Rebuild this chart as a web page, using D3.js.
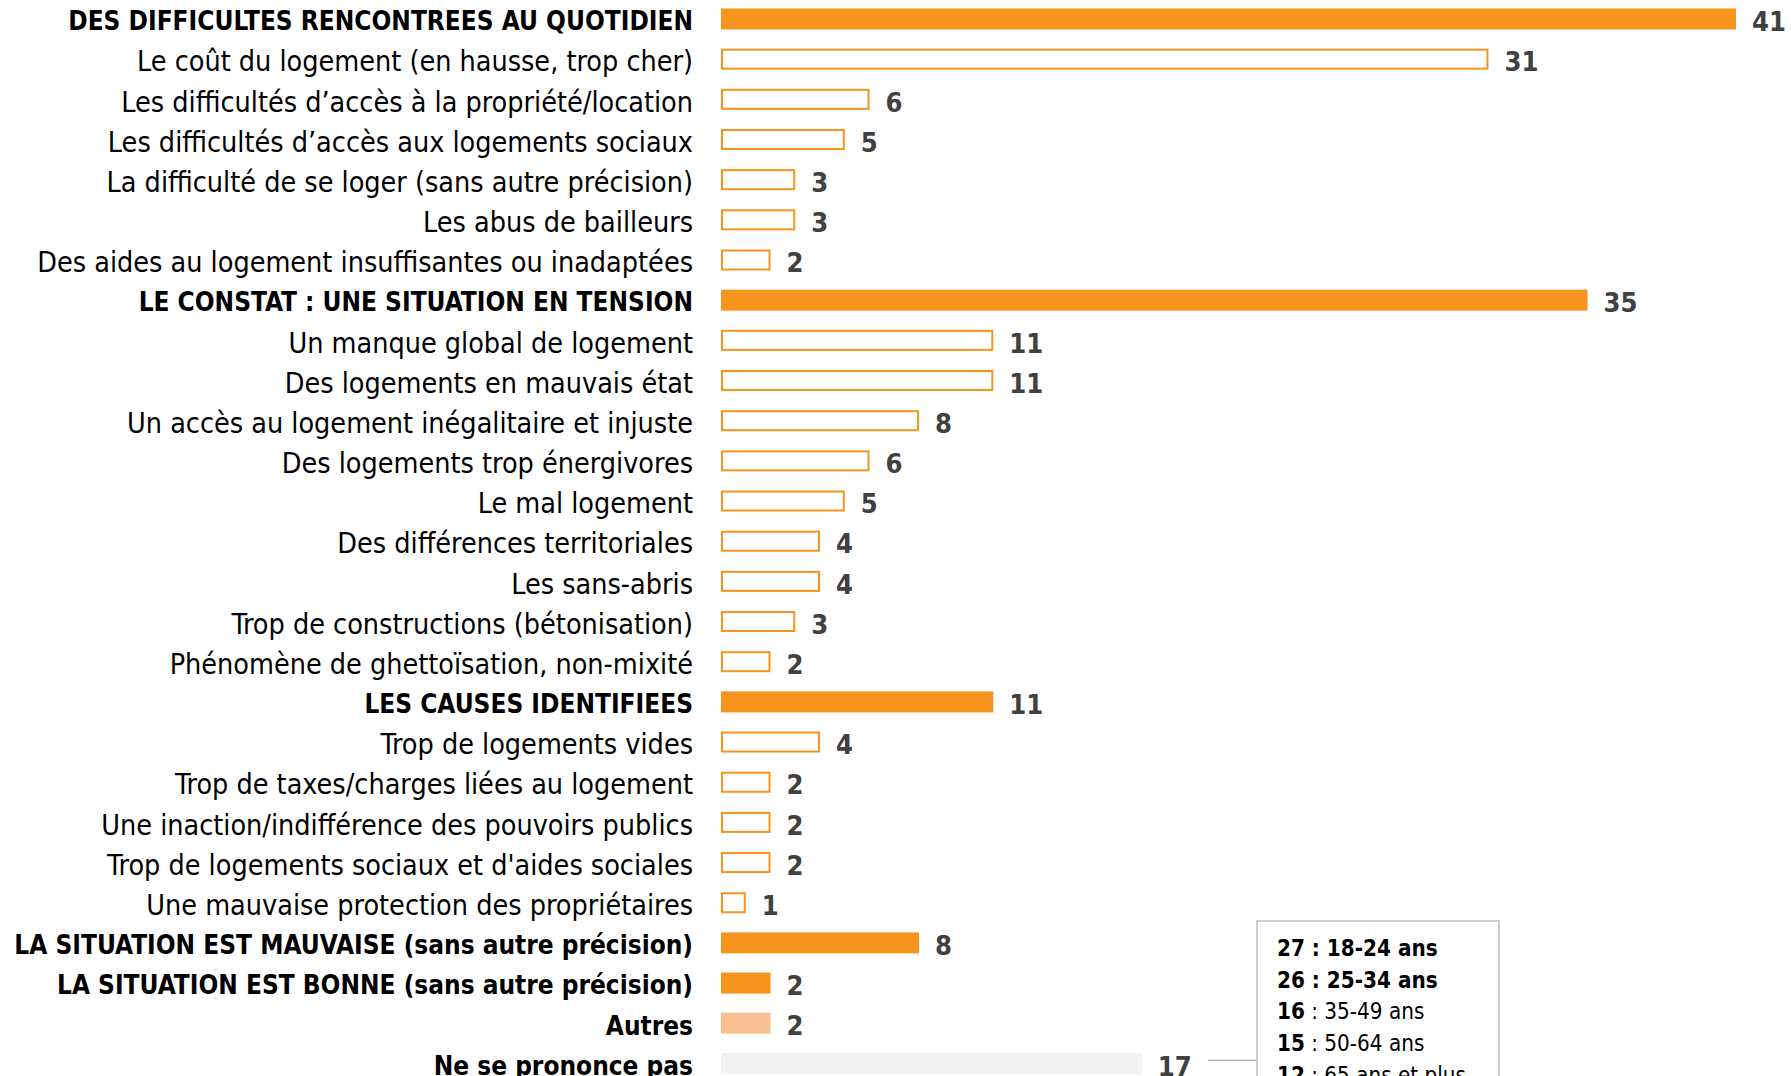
<!DOCTYPE html>
<meta charset="utf-8">
<style>
	body {
		margin: 0;
		background: #fff;
	}
	svg text {
		font-family: "Liberation Sans Narrow", "Arial Narrow", "DejaVu Sans Condensed", "Roboto", sans-serif;
	}
</style>
<body>
<script src="https://cdn.jsdelivr.net/npm/d3@7"></script>
<script>

	//Categories, top to bottom
	var labels = [
		"DES DIFFICULTES RENCONTREES AU QUOTIDIEN",
		"Le coût du logement (en hausse, trop cher)",
		"Les difficultés d’accès à la propriété/location",
		"Les difficultés d’accès aux logements sociaux",
		"La difficulté de se loger (sans autre précision)",
		"Les abus de bailleurs",
		"Des aides au logement insuffisantes ou inadaptées",
		"LE CONSTAT : UNE SITUATION EN TENSION",
		"Un manque global de logement",
		"Des logements en mauvais état",
		"Un accès au logement inégalitaire et injuste",
		"Des logements trop énergivores",
		"Le mal logement",
		"Des différences territoriales",
		"Les sans-abris",
		"Trop de constructions (bétonisation)",
		"Phénomène de ghettoïsation, non-mixité",
		"LES CAUSES IDENTIFIEES",
		"Trop de logements vides",
		"Trop de taxes/charges liées au logement",
		"Une inaction/indifférence des pouvoirs publics",
		"Trop de logements sociaux et d'aides sociales",
		"Une mauvaise protection des propriétaires",
		"LA SITUATION EST MAUVAISE (sans autre précision)",
		"LA SITUATION EST BONNE (sans autre précision)",
		"Autres",
		"Ne se prononce pas"
	];

	//Percentages
	var values = [41, 31, 6, 5, 3, 3, 2, 35, 11, 11, 8, 6, 5, 4, 4, 3, 2, 11, 4, 2, 2, 2, 1, 8, 2, 2, 17];

	//Kind of row: theme heading, detail inside a theme, others, no answer
	var levels = [
		"theme", "detail", "detail", "detail", "detail", "detail", "detail",
		"theme", "detail", "detail", "detail", "detail", "detail", "detail", "detail", "detail", "detail",
		"theme", "detail", "detail", "detail", "detail", "detail",
		"theme", "theme", "other", "nsp"
	];

	//"Ne se prononce pas" by age
	var ageGroups = ["18-24 ans", "25-34 ans", "35-49 ans", "50-64 ans", "65 ans et plus"];
	var ageValues = [27, 26, 16, 15, 12];

	var width = 1791;
	var height = 1076;

	var rows = labels.map(function(d, i) {
		return { label: d, value: values[i], level: levels[i] };
	});

	var svg = d3.select("body")
				.append("svg")
				.attr("width", width)
				.attr("height", height);

	//Fits a font size so that a sample string has the wanted width
	function fitSize(sample, weight, target, base) {
		var t = svg.append("text")
				.attr("font-size", base)
				.attr("font-weight", weight)
				.text(sample);
		var w = t.node().getComputedTextLength();
		t.remove();
		return base * target / w;
	}

	var labelSize = fitSize(labels[1], "normal", 556, 32);
	var boldSize = fitSize(labels[23], "bold", 679, 32);
	var valueSize = fitSize("11", "bold", 34, 34);
	valueSize = Math.min(valueSize, 36);
	var legendSize = fitSize("35-49 ans", "normal", 100, 24);
	legendSize = Math.min(legendSize, 27);

	var xScale = d3.scaleLinear()
					.domain([0, 41])
					.range([721, 1736]);

	var yScale = d3.scaleBand()
					.domain(d3.range(rows.length))
					.range([-1.1, -1.1 + rows.length * 40.17])
					.paddingInner(0.477)
					.paddingOuter(0.2385);

	var fills = { theme: "#F7941E", detail: "#FFFFFF", other: "#FAC090", nsp: "#F2F2F2" };

	//Bars
	svg.selectAll("rect.bar")
		.data(rows)
		.enter()
		.append("rect")
		.attr("class", "bar")
		.attr("x", function(d) { return xScale(0) + (d.level == "detail" ? 1 : 0); })
		.attr("y", function(d, i) { return yScale(i) + (d.level == "detail" ? 1 : 0); })
		.attr("width", function(d) { return xScale(d.value) - xScale(0) - (d.level == "detail" ? 2 : 0); })
		.attr("height", function(d) { return yScale.bandwidth() - (d.level == "detail" ? 2 : 0); })
		.attr("fill", function(d) { return fills[d.level]; })
		.attr("stroke", function(d) { return d.level == "detail" ? "#F7941E" : "none"; })
		.attr("stroke-width", 2);

	//Category labels
	svg.selectAll("text.label")
		.data(rows)
		.enter()
		.append("text")
		.attr("class", "label")
		.attr("x", 693)
		.attr("y", function(d, i) {
			var fs = d.level == "detail" ? labelSize : boldSize;
			return yScale(i) + yScale.bandwidth() / 2 + 2 + 0.358 * fs;
		})
		.attr("text-anchor", "end")
		.attr("font-size", function(d) { return d.level == "detail" ? labelSize : boldSize; })
		.attr("font-weight", function(d) { return d.level == "detail" ? "normal" : "bold"; })
		.attr("fill", "#000")
		.text(function(d) { return d.label; });

	//Value labels
	var valueLabels = svg.selectAll("text.value")
		.data(rows)
		.enter()
		.append("text")
		.attr("class", "value")
		.attr("x", function(d) { return xScale(d.value) + 16; })
		.attr("y", function(d, i) { return yScale(i) + yScale.bandwidth() / 2 + 2.5 + 0.358 * valueSize; })
		.attr("font-size", valueSize)
		.attr("font-weight", "bold")
		.attr("fill", "#404040")
		.text(function(d) { return d.value; });

	//Legend box for the age breakdown of "Ne se prononce pas"
	var last = rows.length - 1;
	var lastLabel = valueLabels.filter(function(d, i) { return i == last; });
	var lineY = yScale(last) + yScale.bandwidth() / 2 - 3;
	var boxX = 1257, boxY = 921;

	svg.append("line")
		.attr("x1", xScale(values[last]) + 16 + lastLabel.node().getComputedTextLength() + 16)
		.attr("x2", boxX)
		.attr("y1", lineY)
		.attr("y2", lineY)
		.attr("stroke", "#A6A6A6")
		.attr("stroke-width", 1.2);

	svg.append("rect")
		.attr("x", boxX)
		.attr("y", boxY)
		.attr("width", 242)
		.attr("height", 220)
		.attr("fill", "#fff")
		.attr("stroke", "#BFBFBF")
		.attr("stroke-width", 1.5);

	var legend = svg.selectAll("text.legend")
		.data(ageGroups)
		.enter()
		.append("text")
		.attr("class", "legend")
		.attr("x", boxX + 20)
		.attr("y", function(d, i) { return 956 + i * 31.7; })
		.attr("font-size", legendSize)
		.attr("fill", "#000");

	//Above the overall score the whole line is bold
	legend.append("tspan")
		.attr("font-weight", "bold")
		.text(function(d, i) { return ageValues[i]; });
	legend.append("tspan")
		.attr("font-weight", function(d, i) { return ageValues[i] > values[last] ? "bold" : "normal"; })
		.text(function(d) { return " : " + d; });

</script>
</body>
